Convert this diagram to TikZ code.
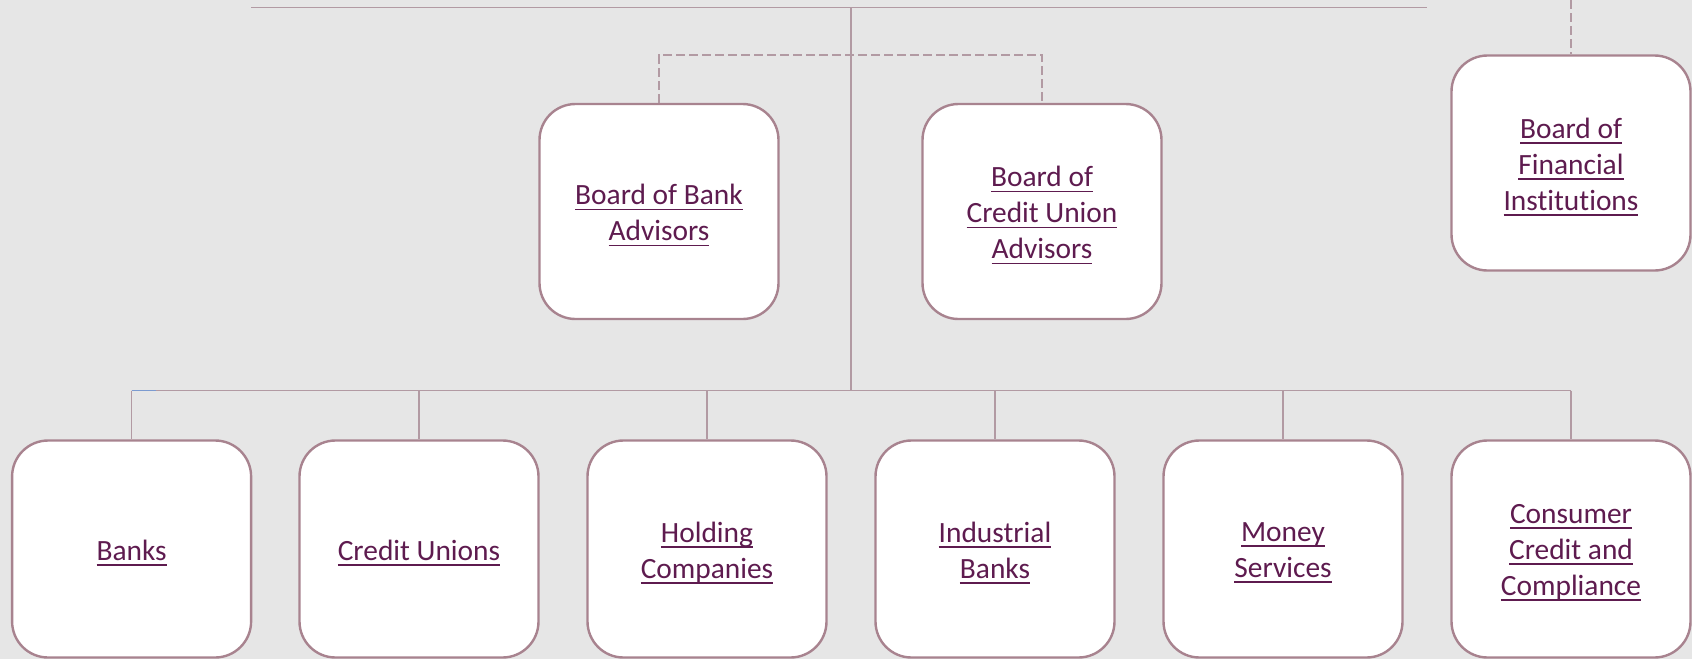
\documentclass[tikz,border=0pt]{standalone}
\usepackage{fontspec}
\setmainfont[RawFeature={-liga;-clig;-calt;-dlig}]{Carlito}
\definecolor{bgc}{HTML}{E6E6E6}
\definecolor{boxline}{HTML}{A8838F}
\definecolor{conn}{HTML}{B29AA3}
\definecolor{txt}{HTML}{5E1B4F}
\definecolor{hilite}{HTML}{7C9BD0}
\newcommand\ulx[1]{\setbox0\hbox{#1}\rlap{\rule[-5.5pt]{\wd0}{1.9pt}}\box0}
\begin{document}
\begin{tikzpicture}[x=1pt,y=-1pt,
  orgbox/.style={draw=boxline,line width=2.4pt,fill=white,rounded corners=36pt,
    minimum width=239pt,minimum height=215pt,inner sep=0pt},
  lbl/.style={align=center,text=txt,inner sep=0pt,yshift=-4pt,
    font=\fontsize{29.4}{36}\selectfont},
  link/.style={draw=conn,line width=1.4pt},
  dlink/.style={draw=conn,line width=1.4pt,dash pattern=on 9pt off 4pt}]
\fill[bgc] (0,0) rectangle (1692,659);
\useasboundingbox (0,0) rectangle (1692,659);

% coordinates for connector free ends
\coordinate (tl) at (251,7.5);
\coordinate (tr) at (1427,7.5);
\coordinate (tc) at (851,7.5);
\coordinate (hub) at (851,390.6);
\coordinate (bl) at (131.6,390.6);
\coordinate (br) at (1571,390.6);
\coordinate (dtop) at (1571,0);
\coordinate (brk) at (851,55);

% lines (drawn first, under boxes)
\draw[link] (tl) -- (tr);
\draw[link] (tc) -- (hub);
\draw[link] (bl) -- (br);

% top boxes
\node[orgbox,label={[lbl]center:{\ulx{Board of Bank}\\\ulx{Advisors}}}] (bba) at (659,211.5) {};
\node[orgbox,label={[lbl]center:{\ulx{Board of}\\\ulx{Credit Union}\\\ulx{Advisors}}}] (bcua) at (1042,211.5) {};
\node[orgbox,label={[lbl]center:{\ulx{Board of}\\\ulx{Financial}\\\ulx{Institutions}}}] (bfi) at (1571,163) {};

% bottom boxes
\node[orgbox,minimum height=217pt,label={[lbl]center:{\ulx{Banks}}}] (banks) at (131.6,549) {};
\node[orgbox,minimum height=217pt,label={[lbl]center:{\ulx{Credit Unions}}}] (cu) at (419,549) {};
\node[orgbox,minimum height=217pt,label={[lbl]center:{\ulx{Holding}\\\ulx{Companies}}}] (hc) at (707,549) {};
\node[orgbox,minimum height=217pt,label={[lbl]center:{\ulx{Industrial}\\\ulx{Banks}}}] (ib) at (995,549) {};
\node[orgbox,minimum height=217pt,label={[lbl]center:{\ulx{Money}\\\ulx{Services}}}] (ms) at (1283,549) {};
\node[orgbox,minimum height=217pt,label={[lbl]center:{\ulx{Consumer}\\\ulx{Credit and}\\\ulx{Compliance}}}] (ccc) at (1571,549) {};

% dashed connectors
\draw[dlink] (dtop) -- (bfi.north);
\draw[dlink] (bba.north) |- (brk) -| (bcua.north);

% drops to bottom boxes
\foreach \n in {banks,cu,hc,ib,ms,ccc}{
  \draw[link] (\n.north |- bl) -- (\n.north);
}
% small blue highlight
\coordinate (bh) at (156,390.6);
\draw[draw=hilite,line width=1.6pt] (bl) -- (bh);
\end{tikzpicture}
\end{document}
